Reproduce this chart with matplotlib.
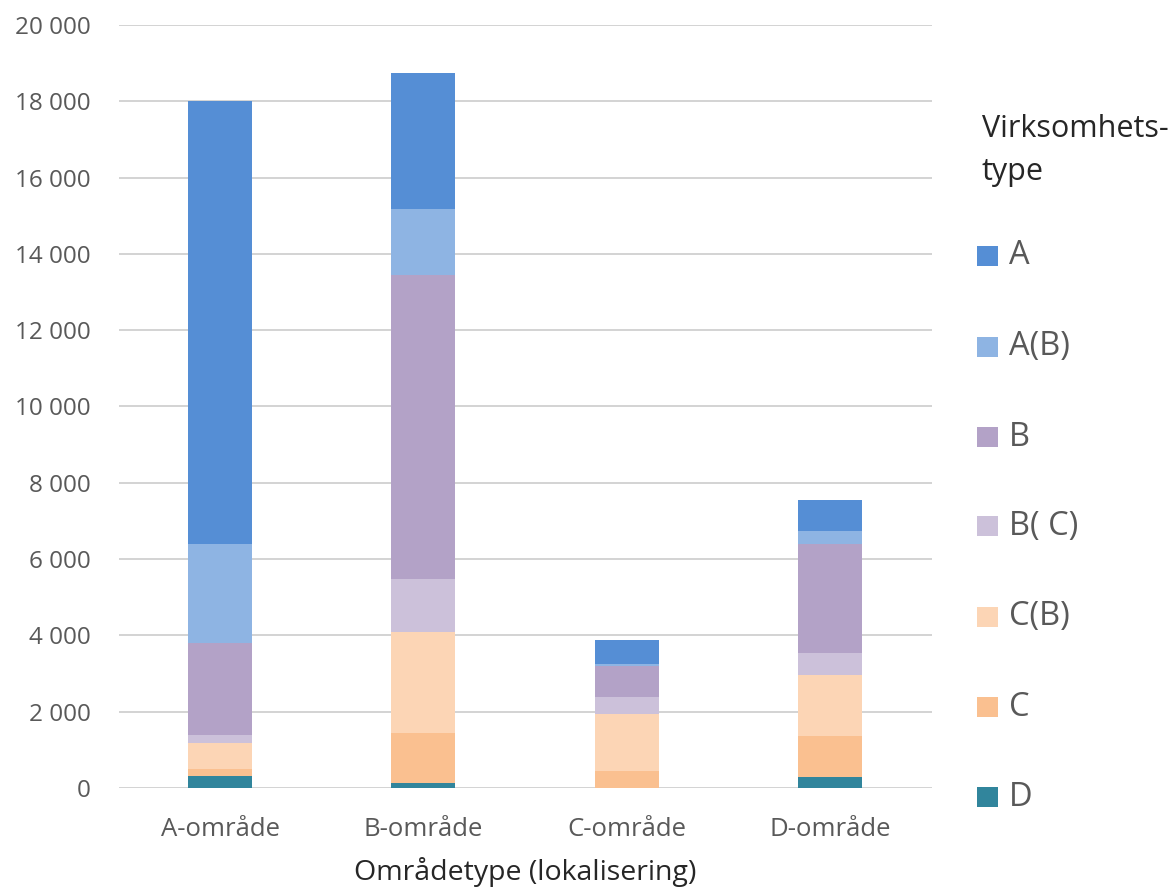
import matplotlib
matplotlib.use("Agg")
import matplotlib.pyplot as plt
import numpy as np
from matplotlib.patches import Rectangle
from matplotlib.ticker import FuncFormatter, MultipleLocator

plt.rcParams['font.family'] = ['Open Sans', 'DejaVu Sans']

# Area types on the x axis
areas = ["A-område", "B-område", "C-område", "D-område"]

# Business types, stacked from the bottom up
types = ["D", "C", "C(B)", "B( C)", "B", "A(B)", "A"]
colors = ["#31859C", "#FAC090", "#FCD5B5", "#CCC1DA", "#B3A2C7", "#8EB4E3", "#558ED5"]

# Values per business type, one per area
d_vals = [320, 120, 0, 280]
c_vals = [170, 1320, 450, 1070]
cb_vals = [700, 2650, 1490, 1620]
bc_vals = [200, 1390, 450, 570]
b_vals = [2400, 7970, 800, 2850]
ab_vals = [2610, 1730, 70, 340]
a_vals = [11600, 3550, 620, 830]

series = [d_vals, c_vals, cb_vals, bc_vals, b_vals, ab_vals, a_vals]

W, H = 1173, 891
fig = plt.figure(figsize=(W / 100, H / 100), dpi=100)
ax = fig.add_axes([118.5 / W, 1 - 788 / H, (931.5 - 118.5) / W, (788 - 25) / H])

x = np.arange(len(areas))
bottom = np.zeros(len(areas))
for vals, col, name in zip(series, colors, types):
    ax.bar(x, vals, width=0.315, bottom=bottom, color=col, label=name, zorder=3)
    bottom += np.array(vals)

ax.set_xlim(-0.5, len(areas) - 0.5)
ax.set_ylim(0, 20000)
ax.yaxis.set_major_locator(MultipleLocator(2000))
ax.yaxis.set_major_formatter(FuncFormatter(lambda v, p: f"{int(v):,}".replace(",", " ")))
ax.grid(axis='y', color='#D0D0D0', linewidth=1.3, zorder=0)
for s in ax.spines.values():
    s.set_visible(False)

ax.set_xticks(x)
ax.set_xticklabels(areas)
ax.tick_params(axis='y', length=0, pad=20, labelsize=17.5, labelcolor='#595959')
ax.tick_params(axis='x', length=0, pad=21, labelsize=18.5, labelcolor='#595959')
ax.set_xlabel("Områdetype (lokalisering)", fontsize=20.5, color='#262626', labelpad=11)

# Legend drawn on the figure, top entry first
fig.text(982 / W, 1 - 137 / H, "Virksomhets-", fontsize=22, color='#262626',
         ha='left', va='baseline')
fig.text(982 / W, 1 - 180 / H, "type", fontsize=22, color='#262626',
         ha='left', va='baseline')
centers = [797, 707, 617, 526, 437, 347, 256]
for name, col, cy in zip(types, colors, centers):
    fig.add_artist(Rectangle((977 / W, 1 - (cy + 10) / H), 21 / W, 20 / H,
                             transform=fig.transFigure, facecolor=col, edgecolor='none'))
    fig.text(1009 / W, 1 - cy / H, name, fontsize=23.5, color='#595959',
             ha='left', va='center')

fig.savefig("out.png", dpi=100)
